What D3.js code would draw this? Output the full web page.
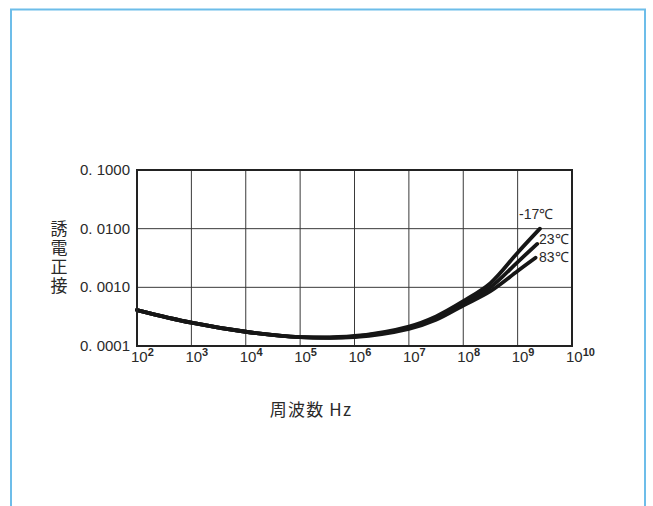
<!DOCTYPE html>
<html><head><meta charset="utf-8">
<script src="https://cdn.jsdelivr.net/npm/d3@7"></script>
<style>body{margin:0;background:#fff}svg{display:block}</style>
</head><body>
<script>
// Data (log10 of frequency in Hz, dissipation factor tan δ)
const freqExp = [2, 3, 4, 5, 6, 7, 7.5, 8, 8.5, 9];
const seriesNames = ["-17℃", "23℃", "83℃"];
const tanM17 = [4.1e-4, 2.5e-4, 1.75e-4, 1.42e-4, 1.48e-4, 2.15e-4, 3.2e-4, 5.8e-4, 1.18e-3, 3.9e-3];
const tan23  = [4.1e-4, 2.5e-4, 1.75e-4, 1.42e-4, 1.45e-4, 2.05e-4, 3.0e-4, 5.3e-4, 1.0e-3, 2.7e-3];
const tan83  = [4.1e-4, 2.5e-4, 1.75e-4, 1.42e-4, 1.42e-4, 1.96e-4, 2.8e-4, 4.9e-4, 8.6e-4, 1.9e-3];
const endExp = [9.41, 9.36, 9.33];
const endVal = [0.0100, 0.0055, 0.0032];
const yTicks = [0.0001, 0.001, 0.01, 0.1];
const yTickLabels = ["0. 0001", "0. 0010", "0. 0100", "0. 1000"];
const xTickExp = [2, 3, 4, 5, 6, 7, 8, 9, 10];

const W = 653, H = 506;
const svg = d3.select("body").append("svg").attr("width", W).attr("height", H);

// outer blue frame
svg.append("rect").attr("x", 11).attr("y", 9.5).attr("width", 634).attr("height", 520)
  .attr("fill", "none").attr("stroke", "#6dbde9").attr("stroke-width", 2);

const L = 137, R = 572, T = 170, B = 346;
const x = d3.scaleLog().domain([1e2, 1e10]).range([L, R]);
const y = d3.scaleLog().domain([1e-4, 1e-1]).range([B, T]);

const jfont = "'Noto Sans CJK JP', 'Noto Sans', sans-serif";
const nfont = "'Liberation Sans', Arial, sans-serif";
const narrow = "'Liberation Sans Narrow', 'Liberation Sans', sans-serif";
const ink = "#2a2a2a";

// grid
const g = svg.append("g");
g.selectAll(".vg").data(xTickExp).enter().append("line")
  .attr("x1", d => x(Math.pow(10, d))).attr("x2", d => x(Math.pow(10, d)))
  .attr("y1", T).attr("y2", B).attr("stroke", "#3a3a3a").attr("stroke-width", 1);
g.selectAll(".hg").data(yTicks).enter().append("line")
  .attr("x1", L).attr("x2", R).attr("y1", d => y(d)).attr("y2", d => y(d))
  .attr("stroke", "#3a3a3a").attr("stroke-width", 1);

// curves
const datasets = [tanM17, tan23, tan83];
const line = d3.line().x(d => x(Math.pow(10, d[0]))).y(d => y(d[1])).curve(d3.curveCatmullRom.alpha(0.5));
datasets.forEach((vals, i) => {
  const pts = freqExp.map((e, j) => [e, vals[j]]);
  pts.push([endExp[i], endVal[i]]);
  svg.append("path").attr("d", line(pts)).attr("fill", "none")
    .attr("stroke", "#161616").attr("stroke-width", 3.8).attr("stroke-linecap", "round");
});

// frame
svg.append("rect").attr("x", L).attr("y", T).attr("width", R - L).attr("height", B - T)
  .attr("fill", "none").attr("stroke", "#222").attr("stroke-width", 2);

// y tick labels
svg.selectAll(".yl").data(yTicks).enter().append("text")
  .attr("x", 130).attr("y", d => y(d) + 5).attr("text-anchor", "end")
  .attr("font-family", nfont).attr("font-size", 15).attr("fill", ink)
  .text((d, i) => yTickLabels[i]);

// x tick labels
const xl = svg.selectAll(".xl").data(xTickExp).enter().append("text")
  .attr("x", d => x(Math.pow(10, d)) - 6).attr("y", 362).attr("text-anchor", "start")
  .attr("font-family", narrow).attr("font-size", 15).attr("fill", ink);
xl.append("tspan").text("10");
xl.append("tspan").attr("dy", -6).attr("font-size", 11).attr("font-weight", "bold")
  .attr("font-family", nfont).text(d => d);

// y title (vertical)
svg.append("text").attr("x", 59).attr("y", 220)
  .attr("writing-mode", "tb").attr("glyph-orientation-vertical", 0)
  .attr("letter-spacing", 2)
  .attr("font-family", jfont).attr("font-size", 17).attr("fill", ink).text("誘電正接");

// x title
svg.append("text").attr("x", 311).attr("y", 416).attr("text-anchor", "middle")
  .attr("font-family", jfont).attr("font-size", 17).attr("letter-spacing", 1.2)
  .attr("fill", ink).text("周波数 Hz");

// series labels
const lab = [[519, 219], [539, 244], [539, 262]];
seriesNames.forEach((n, i) => {
  svg.append("text").attr("x", lab[i][0]).attr("y", lab[i][1])
    .attr("font-family", narrow).attr("font-size", 14).attr("fill", ink)
    .text(n);
});
</script>
</body></html>
